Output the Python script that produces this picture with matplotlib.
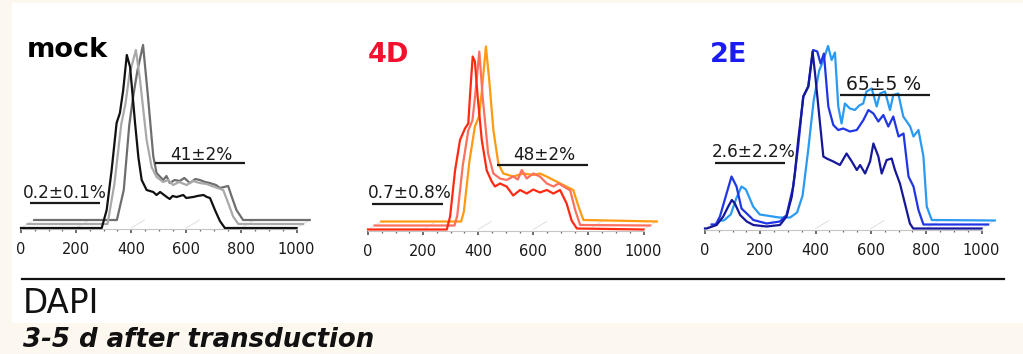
import matplotlib
matplotlib.use("Agg")
import matplotlib.pyplot as plt
from matplotlib.patches import Rectangle
from matplotlib.lines import Line2D
from matplotlib.ticker import FixedLocator

# ---------------- data (DAPI intensity vs. cell count, arbitrary units) ----------------
tick_values = [0, 200, 400, 600, 800, 1000]

# mock
mock_front_x = [0, 293, 311, 329, 347, 359, 371, 384, 396, 414, 426, 438, 456, 480, 492, 505,
                529, 540, 550, 565, 589, 600, 625, 640, 662, 675, 686, 704, 722, 740, 1000]
mock_front_y = [0, 0, 18, 58, 105, 115, 138, 173, 161, 105, 71, 48, 38, 36, 33, 36,
                31, 29, 32, 31, 33, 30, 31, 32, 33, 31, 30, 18, 7, 0, 0]
mock_mid_x = [0, 290, 315, 340, 355, 370, 393, 408, 432, 450, 468, 492, 510, 528, 550, 577,
              600, 625, 650, 674, 710, 728, 746, 765, 1000]
mock_mid_y = [0, 0, 40, 100, 120, 150, 174, 144, 84, 57, 47, 42, 44, 39, 42, 39,
              43, 41, 40, 37.5, 34, 21, 7.5, 0, 0]
mock_back_x = [0, 300, 325, 345, 360, 375, 395, 413, 432, 444, 468, 480, 492, 510, 528, 545,
               565, 585, 601, 620, 637, 660, 674, 704, 716, 734, 758, 1000]
mock_back_y = [0, 0, 30, 95, 125, 150, 175, 123, 64, 47, 40, 44, 37, 40, 39, 42,
               37, 41, 40, 38, 37, 35, 32, 34, 24, 10, 0, 0]

# 4D
d4_front_x = [0, 286, 298, 316, 334, 352, 364, 370, 380, 388, 398, 413, 431, 449, 461, 479,
              503, 527, 552, 576, 600, 624, 649, 673, 697, 721, 739, 758, 1000]
d4_front_y = [0, 0, 13, 59, 89.5, 101, 106, 133, 173, 168, 133, 89.5, 59, 48, 43, 46,
              43, 34, 39.5, 36, 40, 37, 39.5, 36, 39.5, 26, 9, 1, 0]
d4_mid_x = [0, 290, 300, 320, 340, 355, 365, 380, 392, 412, 431, 455, 479, 503, 520, 534,
            552, 576, 600, 625, 649, 668, 686, 710, 728, 746, 1000]
d4_mid_y = [0, 0, 10, 60, 95, 105, 130, 174, 129, 72, 52, 47, 45.5, 49, 46, 55.5,
            47, 52, 49, 42, 39, 42, 39, 35, 15.5, 0.5, 0]
d4_back_x = [0, 290, 300, 320, 340, 355, 365, 380, 392, 407, 425, 443, 479, 516, 552, 576,
             600, 625, 661, 672, 697, 716, 734, 1000]
d4_back_y = [0, 0, 10, 60, 95, 105, 130, 175, 141.5, 91.5, 58, 48, 45, 48, 46.5, 48,
             45, 41.5, 36.5, 35, 31.5, 15, 1.5, 0]

# 2E
e2_front_x = [0, 6, 42, 66, 84, 97, 108, 127, 151, 175, 223, 271, 295, 314, 325, 337, 356,
              374, 389, 398, 416, 428, 440, 464, 488, 512, 531, 549, 561, 579, 597, 609,
              627, 639, 657, 675, 687, 705, 723, 741, 753, 1000]
e2_front_y = [0, 0, 3.5, 12, 22, 28.5, 25, 13.5, 7, 3.5, 2, 3.5, 12, 32, 55, 88.5, 132,
              142, 177, 155, 105, 72, 70, 67, 63.5, 75, 67, 58.5, 63.5, 55, 67, 85,
              72, 55, 68.5, 70, 58.5, 45, 25, 5, 0, 0]
e2_mid_x = [0, 15, 30, 54, 72, 90, 108, 127, 151, 199, 247, 271, 295, 313, 331, 349, 367,
            382, 394, 406, 422, 440, 458, 476, 500, 525, 549, 567, 585, 603, 621, 639,
            657, 676, 694, 712, 730, 748, 766, 1000]
e2_mid_y = [0, 0, 8, 31, 48, 38, 16, 11, 4.5, 1, 3, 9.5, 38, 78, 128, 138, 174.5,
            173, 161, 171, 118, 99.5, 94.5, 96, 93, 94.5, 104.5, 114.5, 111, 103, 109.5, 98,
            108, 88, 91, 48, 38, 14.5, 0, 0]
e2_back_x = [0, 20, 45, 65, 84, 100, 126, 150, 220, 260, 285, 305, 325, 345, 365, 380, 397,
             410, 422, 434, 446, 458, 476, 494, 510, 524, 536, 555, 573, 585, 603, 621,
             633, 651, 669, 694, 706, 724, 742, 754, 772, 1000]
e2_back_y = [0, 0, 6, 22, 34, 31, 14, 6, 3, 3, 8, 25, 70, 120, 150, 160, 174.5,
             160.5, 168, 114, 97, 117, 112, 110.5, 115, 117, 129, 132, 114, 127, 129, 110.5,
             125.5, 127, 104, 94, 84, 90.5, 64, 14, 0.5, 0]

# ---------------- figure ----------------
W, H = 1023, 354
fig = plt.figure(figsize=(W / 100, H / 100), dpi=100, facecolor="#fdf8ef")
fig.patches.append(Rectangle((12 / W, 31 / H), 1011 / W, 320 / H, transform=fig.transFigure,
                             facecolor="white", edgecolor="none", zorder=-5))

DX, DY = 24, 4          # per-layer offset of the stacked (pseudo-3D) histograms
XMIN, XMAX = -60, 1120
YMIN, YMAX = -30, 200


def make_axes(x0_px, base_px, scale):
    left = x0_px + XMIN * scale
    width = (XMAX - XMIN) * scale
    bottom_px = base_px - YMIN
    top_px = base_px - YMAX
    ax = fig.add_axes([left / W, 1 - bottom_px / H, width / W, (bottom_px - top_px) / H])
    ax.set_xlim(XMIN, XMAX)
    ax.set_ylim(YMIN, YMAX)
    ax.patch.set_visible(False)
    for s in ("left", "right", "top"):
        ax.spines[s].set_visible(False)
    ax.spines["bottom"].set_position(("data", -1))
    ax.spines["bottom"].set_bounds(0, 1000)
    ax.spines["bottom"].set_color("#c4c4c4")
    ax.spines["bottom"].set_linewidth(0.8)
    ax.set_xticks(tick_values)
    ax.set_xticklabels([str(v) for v in tick_values])
    ax.xaxis.set_minor_locator(FixedLocator([v for v in range(50, 1000, 50) if v % 200]))
    ax.tick_params(axis="x", which="major", length=3.2, width=1.1, color="#444444",
                   labelsize=10.5, labelcolor="#1a1a1a", pad=6.5)
    ax.tick_params(axis="x", which="minor", length=1.6, width=0.9, color="#666666")
    ax.set_yticks([])
    # depth guide lines of the stacked layout
    for v in tick_values:
        ax.plot([v, v + 2 * DX], [0, 2 * DY], color="#dadada", lw=0.6, zorder=1)
    return ax


def draw_panel(ax, traces, colors):
    # traces listed front -> back; back layers are shifted right and up
    for k in reversed(range(len(traces))):
        xs, ys = traces[k]
        ax.plot([x + k * DX for x in xs], [y + k * DY for y in ys],
                color=colors[k], lw=1.6, zorder=5 - k, solid_joinstyle="round")


def annotate(ax, text, xc, ytext, x1, x2, yline, size=12.2):
    ax.text(xc, ytext, text, ha="center", va="baseline", fontsize=size, color="#1a1a1a", zorder=6)
    ax.plot([x1, x2], [yline, yline], color="#1a1a1a", lw=1.6, zorder=6, solid_capstyle="butt")


# mock
ax1 = make_axes(21, 228, 0.2755)
draw_panel(ax1, [(mock_front_x, mock_front_y), (mock_mid_x, mock_mid_y), (mock_back_x, mock_back_y)],
           ["#111111", "#a9a9a9", "#6e6e6e"])
annotate(ax1, "0.2±0.1%", 160, 30, 33, 287, 25)
annotate(ax1, "41±2%", 655, 68, 486, 813, 65)
fig.text(27 / W, 1 - 57 / H, "mock", fontsize=19.5, fontweight="bold", color="#000000", va="baseline")

# 4D
ax2 = make_axes(368, 229.5, 0.2755)
draw_panel(ax2, [(d4_front_x, d4_front_y), (d4_mid_x, d4_mid_y), (d4_back_x, d4_back_y)],
           ["#ff2a12", "#ff7060", "#ff9a12"])
annotate(ax2, "0.7±0.8%", 150, 31, 13, 273, 25.5)
annotate(ax2, "48±2%", 639, 69.5, 467, 800, 65)
fig.text(368 / W, 1 - 62 / H, "4D", fontsize=19.5, fontweight="bold", color="#f2102c", va="baseline")

# 2E
ax3 = make_axes(705, 228.5, 0.2765)
draw_panel(ax3, [(e2_front_x, e2_front_y), (e2_mid_x, e2_mid_y), (e2_back_x, e2_back_y)],
           ["#16189a", "#2036e6", "#2a9af2"])
annotate(ax3, "2.6±2.2%", 175, 71.5, 36, 289, 66)
annotate(ax3, "65±5 %", 647, 138.5, 488, 814, 133.5, size=13.5)
fig.text(710 / W, 1 - 62 / H, "2E", fontsize=19.5, fontweight="bold", color="#1c1cf2", va="baseline")

# shared x-axis label
fig.add_artist(Line2D([22 / W, 1004 / W], [1 - 279 / H, 1 - 279 / H], color="#111111", lw=1.6))
fig.text(23 / W, 1 - 313 / H, "DAPI", fontsize=23.5, color="#111111", va="baseline")
fig.text(23 / W, 1 - 347 / H, "3-5 d after transduction", fontsize=18.7, fontweight="bold",
         fontstyle="italic", color="#111111", va="baseline")

fig.savefig("out.png", dpi=100, facecolor=fig.get_facecolor())
